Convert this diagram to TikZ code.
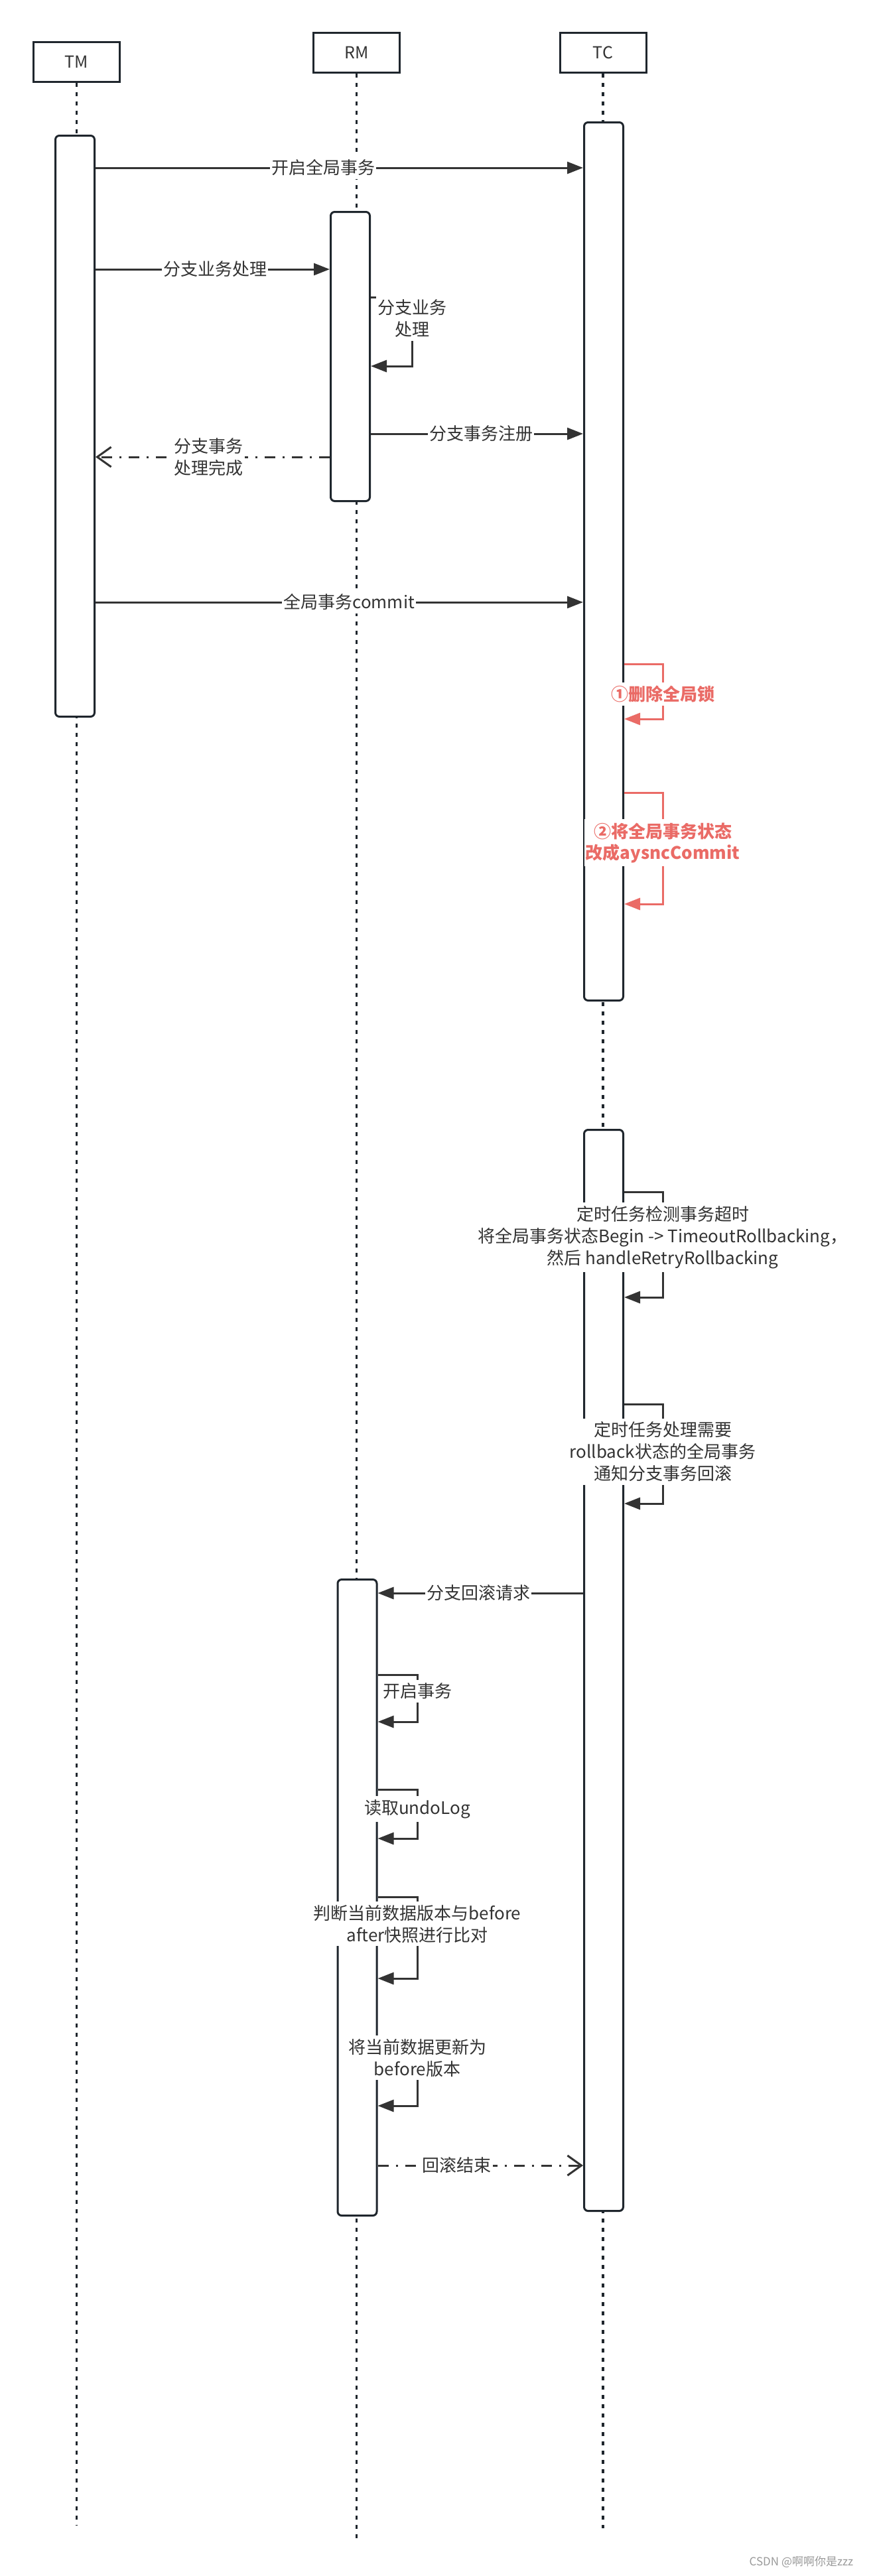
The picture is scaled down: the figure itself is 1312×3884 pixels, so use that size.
\documentclass[tikz,border=0pt]{standalone}
\usepackage{fontspec}
\setmainfont{Noto Sans CJK SC}
\usetikzlibrary{arrows.meta}
\definecolor{ink}{HTML}{1F262D}
\definecolor{txt}{HTML}{333333}
\definecolor{redc}{HTML}{EA6B66}
\definecolor{wm}{HTML}{9A9A9A}
\begin{document}
\begin{tikzpicture}[x=1pt,y=-1pt,
  lbox/.style={draw=ink, line width=3pt, fill=white, minimum width=130pt, minimum height=60pt, inner sep=0pt, font=\fontsize{25}{30}\selectfont, text=txt},
  actbar/.style={draw=ink, line width=3pt, fill=white, rounded corners=6pt, minimum width=59pt, inner sep=0pt},
  lifeline/.style={draw=ink, line width=3.5pt, dash pattern=on 6pt off 8pt},
  msg/.style={draw=txt, line width=3pt, -{Triangle[length=24pt,width=18pt]}},
  ret/.style={draw=txt, line width=3pt, dash pattern=on 16pt off 11pt on 3pt off 11pt, -{Straight Barb[length=21pt,width=30pt]}},
  lbl/.style={fill=white, text=txt, font=\fontsize{26}{33}\selectfont, align=center, inner xsep=2pt, inner ysep=5pt},
  redmsg/.style={draw=redc, line width=3pt, -{Triangle[length=24pt,width=18pt]}},
  redlbl/.style={lbl, text=redc, font=\bfseries\fontsize{26}{32}\selectfont},
]
\fill[white] (0,0) rectangle (1312,3884);
\useasboundingbox (0,0) rectangle (1312,3884);

% participants
\node[lbox] (tm) at (115.5,93) {TM};
\node[lbox] (rm) at (537.5,79.5) {RM};
\node[lbox] (tc) at (909,79.5) {TC};

\coordinate (tmend) at (115.5,3807);
\coordinate (rmend) at (537.5,3834);
\coordinate (tcend) at (909,3812);

\draw[lifeline] (tm.south) -- (tmend);
\draw[lifeline] (rm.south) -- (rmend);
\draw[lifeline] (tc.south) -- (tcend);

% activation bars
\node[actbar, minimum height=876pt] (tmA) at (113,642.5) {};
\node[actbar, minimum height=1324pt] (tc1) at (910,846.5) {};
\node[actbar, minimum height=1630pt] (tc2) at (910,2518.5) {};
\node[actbar, minimum height=436pt] (rm1) at (528,537.5) {};
\node[actbar, minimum height=959pt] (rm2) at (538.5,2861) {};

% messages
\draw[msg] (tmA.east |- 0,253) -- node[lbl,pos=0.467]{开启全局事务} (tc1.west |- 0,253);
\draw[msg] (tmA.east |- 0,406) -- node[lbl,pos=0.51]{分支业务处理} (rm1.west |- 0,406);
\draw[msg] (rm1.east |- 0,448) -- (621,448) -- node[lbl,pos=0.31]{分支业务\\处理} (621,552) -- (rm1.east |- 0,552);
\draw[msg] (rm1.east |- 0,654) -- node[lbl,pos=0.52]{分支事务注册} (tc1.west |- 0,654);
\draw[ret] (rm1.west |- 0,689) -- node[lbl,pos=0.516]{分支事务\\处理完成} (tmA.east |- 0,689);
\draw[msg] (tmA.east |- 0,908) -- node[lbl,pos=0.52]{全局事务commit} (tc1.west |- 0,908);

\draw[redmsg] (tc1.east |- 0,1001) -- (999,1001) -- node[redlbl,pos=0.55]{①删除全局锁} (999,1084) -- (tc1.east |- 0,1084);
\draw[redmsg] (tc1.east |- 0,1195) -- (999,1195) -- node[redlbl,pos=0.45]{②将全局事务状态\\改成aysncCommit} (999,1363) -- (tc1.east |- 0,1363);

\draw[msg] (tc2.east |- 0,1797) -- (999,1797) -- node[lbl,pos=0.43]{定时任务检测事务超时\\将全局事务状态Begin -> TimeoutRollbacking，\\然后 handleRetryRollbacking} (999,1956) -- (tc2.east |- 0,1956);
\draw[msg] (tc2.east |- 0,2117) -- (999,2117) -- node[lbl,pos=0.48]{定时任务处理需要\\rollback状态的全局事务\\通知分支事务回滚} (999,2267) -- (tc2.east |- 0,2267);

\draw[msg] (tc2.west |- 0,2402) -- node[lbl,pos=0.51]{分支回滚请求} (rm2.east |- 0,2402);

\draw[msg] (rm2.east |- 0,2525) -- (629,2525) -- node[lbl,pos=0.35]{开启事务} (629,2596) -- (rm2.east |- 0,2596);
\draw[msg] (rm2.east |- 0,2698) -- (629,2698) -- node[lbl,pos=0.4]{读取undoLog} (629,2772) -- (rm2.east |- 0,2772);
\draw[msg] (rm2.east |- 0,2860) -- (629,2860) -- node[lbl,pos=0.33]{判断当前数据版本与before\\after快照进行比对} (629,2983) -- (rm2.east |- 0,2983);
\draw[msg] (rm2.east |- 0,3076) -- (629,3076) -- node[lbl,pos=0.27]{将当前数据更新为\\before版本} (629,3175) -- (rm2.east |- 0,3175);

\draw[ret] (rm2.east |- 0,3265) -- node[lbl,pos=0.386]{回滚结束} (tc2.west |- 0,3265);

\node[text=wm, font=\fontsize{17}{20}\selectfont, inner sep=0pt] (wmk) at (1208,3863) {CSDN @啊啊你是zzz};
\end{tikzpicture}
\end{document}
